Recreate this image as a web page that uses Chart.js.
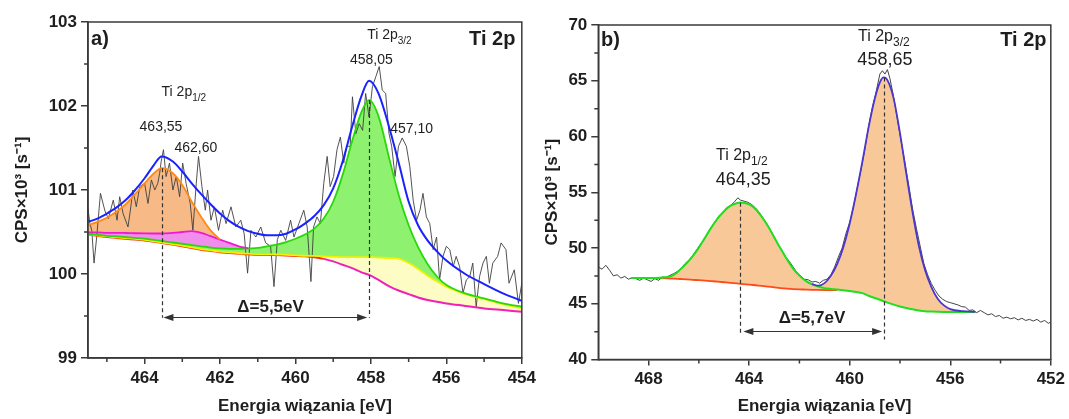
<!DOCTYPE html>
<html><head><meta charset="utf-8">
<script src="https://cdn.jsdelivr.net/npm/chart.js@4.4.1/dist/chart.umd.min.js"></script>
<style>
html,body{margin:0;padding:0;background:#fff;width:1069px;height:419px;overflow:hidden}
#wa{position:absolute;left:0;top:0;width:540px;height:419px}
#wb{position:absolute;left:534px;top:0;width:535px;height:419px}
</style></head><body>
<div id="wa"><canvas id="ca" width="540" height="419"></canvas></div>
<div id="wb"><canvas id="cb" width="535" height="419"></canvas></div>
<script>
// ---------- Panel a) data ----------
const aXTicks = [464, 462, 460, 458, 456, 454];
const aYTicks = [99, 100, 101, 102, 103];
const aXMinor = [465, 463, 461, 459, 457, 455];
const aYMinor = [99.5, 100.5, 101.5, 102.5];

const aRawX = [
 465.50, 465.45, 465.40, 465.34, 465.27, 465.17, 465.05, 464.96, 464.83, 464.73,
 464.66, 464.57, 464.44, 464.38, 464.31, 464.22, 464.13, 464.00, 463.91, 463.82,
 463.73, 463.65, 463.60, 463.56, 463.50, 463.43, 463.34, 463.25, 463.16, 463.07,
 462.99, 462.90, 462.79, 462.72, 462.63, 462.57, 462.48, 462.39, 462.33, 462.24,
 462.15, 462.04, 461.93, 461.84, 461.71, 461.58, 461.45, 461.36, 461.27, 461.18,
 461.05, 460.92, 460.79, 460.66, 460.57, 460.48, 460.39, 460.26, 460.13, 460.04,
 459.91, 459.78, 459.69, 459.59, 459.52, 459.43, 459.34, 459.25, 459.16, 459.08,
 458.99, 458.90, 458.81, 458.72, 458.64, 458.55, 458.49, 458.40, 458.31, 458.22,
 458.14, 458.05, 457.96, 457.87, 457.78, 457.70, 457.61, 457.52, 457.45, 457.36,
 457.27, 457.17, 457.06, 456.97, 456.88, 456.79, 456.70, 456.62, 456.53, 456.44,
 456.35, 456.26, 456.18, 456.09, 456.00, 455.91, 455.82, 455.74, 455.65, 455.56,
 455.47, 455.38, 455.30, 455.21, 455.12, 455.03, 454.94, 454.86, 454.77, 454.64,
 454.55, 454.42, 454.34, 454.20, 454.09, 454.00];
const aRawY = [
 100.78, 100.60, 100.52, 100.13, 100.44, 100.96, 100.75, 100.66, 100.88, 100.64,
 100.92, 100.72, 100.56, 100.75, 101.00, 100.80, 101.04, 101.08, 100.84, 101.12,
 101.00, 101.08, 101.20, 101.34, 101.48, 101.16, 101.32, 101.00, 101.16, 100.92,
 101.32, 101.08, 100.84, 100.52, 101.08, 101.40, 101.04, 100.76, 101.00, 100.64,
 100.80, 100.52, 100.76, 100.60, 100.80, 100.56, 100.64, 100.48, 100.01, 100.52,
 100.44, 100.56, 100.37, 100.33, 99.85, 100.41, 100.52, 100.40, 100.64, 100.44,
 100.60, 100.76, 100.56, 99.91, 100.56, 100.68, 100.60, 101.08, 101.40, 101.04,
 101.16, 101.48, 101.63, 101.32, 101.52, 101.52, 102.11, 101.67, 101.79, 101.71,
 102.15, 101.87, 102.23, 102.35, 102.47, 102.19, 102.15, 101.67, 101.52, 101.16,
 101.52, 101.62, 101.52, 101.28, 100.88, 100.64, 100.76, 100.96, 100.68, 100.60,
 100.29, 100.44, 99.93, 100.21, 100.33, 100.29, 100.09, 100.21, 100.09, 99.77,
 99.93, 99.97, 100.13, 99.61, 99.97, 100.13, 100.21, 99.89, 100.13, 100.21,
 100.37, 100.29, 99.89, 100.05, 99.65, 99.89];

const aFitX = [
 465.5, 465.25, 465.0, 464.75, 464.5, 464.25, 464.0, 463.75, 463.55, 463.25,
 463.0, 462.75, 462.5, 462.25, 462.0, 461.75, 461.5, 461.25, 461.0, 460.75,
 460.5, 460.25, 460.0, 459.75, 459.5, 459.25, 459.0, 458.75, 458.5, 458.25,
 458.05, 457.8, 457.5, 457.25, 457.0, 456.75, 456.5, 456.25, 456.0, 455.5,
 455.0, 454.5, 454.0];
const aBase = [
 100.47, 100.455, 100.44, 100.43, 100.42, 100.41, 100.40, 100.385, 100.37, 100.35,
 100.33, 100.31, 100.29, 100.275, 100.26, 100.25, 100.24, 100.235, 100.23, 100.23,
 100.225, 100.22, 100.215, 100.21, 100.20, 100.18, 100.15, 100.11, 100.07, 100.02,
 99.99, 99.93, 99.85, 99.80, 99.76, 99.72, 99.69, 99.67, 99.65, 99.62,
 99.59, 99.57, 99.55];
const aYellow = [
 100.472, 100.46, 100.447, 100.437, 100.427, 100.417, 100.405, 100.39, 100.375, 100.355,
 100.337, 100.317, 100.297, 100.282, 100.267, 100.257, 100.247, 100.242, 100.237, 100.237,
 100.232, 100.227, 100.222, 100.217, 100.215, 100.21, 100.205, 100.20, 100.20, 100.20,
 100.20, 100.195, 100.19, 100.18, 100.13, 100.06, 99.98, 99.91, 99.85, 99.76,
 99.70, 99.64, 99.59];
const aGreen = [
 100.475, 100.465, 100.455, 100.447, 100.44, 100.43, 100.42, 100.405, 100.395, 100.375,
 100.36, 100.345, 100.33, 100.315, 100.305, 100.30, 100.30, 100.305, 100.31, 100.33,
 100.35, 100.38, 100.42, 100.47, 100.54, 100.66, 100.86, 101.18, 101.58, 101.93,
 102.07, 101.88, 101.35, 100.92, 100.58, 100.32, 100.12, 99.97, 99.87, 99.77,
 99.71, 99.65, 99.61];
const aMagenta = [
 100.495, 100.495, 100.49, 100.49, 100.488, 100.485, 100.483, 100.482, 100.482, 100.49,
 100.50, 100.51, 100.49, 100.45, 100.41, 100.37, 100.33, 100.305, null, null,
 null, null, null, null, null, null, null, null, null, null,
 null, null, null, null, null, null, null, null, null, null,
 null, null, null];
const aOrange = [
 100.58, 100.62, 100.67, 100.74, 100.83, 100.95, 101.08, 101.20, 101.26, 101.20,
 101.06, 100.86, 100.68, 100.52, 100.41, null, null, null, null, null,
 null, null, null, null, null, null, null, null, null, null,
 null, null, null, null, null, null, null, null, null, null,
 null, null, null];
const aEnvelope = [
 100.62, 100.66, 100.72, 100.79, 100.88, 101.00, 101.14, 101.30, 101.40, 101.34,
 101.22, 101.08, 100.95, 100.83, 100.72, 100.63, 100.56, 100.51, 100.48, 100.46,
 100.46, 100.48, 100.53, 100.60, 100.69, 100.82, 101.02, 101.34, 101.75, 102.12,
 102.30, 102.15, 101.72, 101.30, 100.86, 100.58, 100.40, 100.27, 100.16, 100.00,
 99.88, 99.77, 99.68];

// ---------- Panel b) data ----------
const bXTicks = [468, 464, 460, 456, 452];
const bYTicks = [40, 45, 50, 55, 60, 65, 70];
const bXMinor = [466, 462, 458, 454];
const bYMinor = [42.5, 47.5, 52.5, 57.5, 62.5, 67.5];

const bRawX = [
 470.0, 469.85, 469.7, 469.55, 469.4, 469.25, 469.1, 468.95, 468.8, 468.65,
 468.5, 468.35, 468.2, 468.05, 467.9, 467.75, 467.6, 467.45, 467.3, 467.15,
 467.0, 466.85, 466.7, 466.55, 466.4, 466.25, 466.1, 465.95, 465.8, 465.65,
 465.5, 465.35, 465.2, 465.05, 464.9, 464.75, 464.6, 464.45, 464.35, 464.2,
 464.05, 463.9, 463.75, 463.6, 463.45, 463.3, 463.15, 463.0, 462.85, 462.7,
 462.55, 462.4, 462.25, 462.1, 461.95, 461.8, 461.65, 461.5, 461.35, 461.2,
 461.05, 460.9, 460.75, 460.6, 460.45, 460.3, 460.15, 460.0, 459.85, 459.7,
 459.55, 459.4, 459.25, 459.1, 458.95, 458.8, 458.7, 458.6, 458.5, 458.4,
 458.25, 458.1, 457.95, 457.8, 457.65, 457.5, 457.35, 457.2, 457.05, 456.9,
 456.75, 456.6, 456.45, 456.3, 456.15, 456.0, 455.85, 455.7, 455.55, 455.4,
 455.25, 455.1, 454.95, 454.8, 454.65, 454.5, 454.35, 454.2, 454.05, 453.9,
 453.75, 453.6, 453.45, 453.3, 453.15, 453.0, 452.85, 452.7, 452.55, 452.4,
 452.25, 452.1, 452.0];
const bRawY = [
 48.3, 48.1, 48.45, 48.0, 47.5, 47.6, 47.3, 47.45, 47.2, 47.35,
 47.25, 47.1, 47.3, 47.15, 47.0, 47.25, 47.1, 47.4, 47.35, 47.55,
 47.7, 47.9, 48.2, 48.6, 48.9, 49.3, 49.8, 50.3, 50.7, 51.3,
 51.9, 52.3, 52.9, 53.1, 53.6, 53.8, 54.1, 54.5, 54.3, 54.2,
 54.1, 53.9, 53.6, 53.2, 52.7, 52.2, 51.6, 51.0, 50.3, 49.8,
 49.2, 48.8, 48.3, 47.8, 47.5, 47.2, 47.15, 46.95, 47.0, 46.85,
 47.1, 47.2, 47.6, 48.3, 49.2, 50.0, 51.3, 52.3, 53.7, 55.4,
 57.0, 58.8, 60.9, 62.6, 64.0, 65.6, 65.9, 65.6, 66.0, 65.2,
 63.5, 61.5, 59.5, 57.6, 55.6, 53.5, 51.8, 50.2, 48.6, 47.6,
 46.8, 46.2, 45.7, 45.4, 45.2, 45.1, 45.0, 44.9, 44.75, 44.7,
 44.4, 44.45, 44.2, 44.4, 44.2, 44.0, 44.1, 43.85, 43.95, 43.7,
 43.8, 43.65, 43.75, 43.55, 43.7, 43.5, 43.6, 43.45, 43.6, 43.35,
 43.5, 43.25, 43.35];

const bFitX = [
 468.7, 468.25, 467.75, 467.25, 467.0, 466.75, 466.5, 466.25, 466.0, 465.75,
 465.5, 465.25, 465.0, 464.75, 464.5, 464.35, 464.0, 463.75, 463.5, 463.25,
 463.0, 462.75, 462.5, 462.25, 462.0, 461.75, 461.5, 461.25, 461.0, 460.75,
 460.5, 460.25, 460.0, 459.75, 459.5, 459.25, 459.0, 458.8, 458.65, 458.5,
 458.25, 458.0, 457.75, 457.5, 457.25, 457.0, 456.75, 456.5, 456.25, 456.0,
 455.5, 455.0];
const bRedBase = [
 47.30, 47.30, 47.29, 47.27, 47.25, 47.22, 47.19, 47.15, 47.11, 47.07,
 47.03, 46.98, 46.93, 46.88, 46.82, 46.79, 46.72, 46.66, 46.60, 46.54,
 46.47, 46.41, 46.36, 46.32, 46.29, 46.27, 46.25, 46.24, 46.23, 46.22,
 46.22, null, null, null, null, null, null, null, null, null,
 null, null, null, null, null, null, null, null, null, null,
 null, null];
const bGreen = [
 47.30, 47.30, 47.31, 47.40, 47.58, 48.05, 48.60, 49.25, 50.03, 50.95,
 51.85, 52.65, 53.30, 53.78, 54.02, 54.08, 53.92, 53.50, 52.80, 51.95,
 50.95, 49.95, 49.00, 48.15, 47.52, 47.05, 46.75, 46.55, 46.40, 46.33,
 46.28, 46.22, 46.15, 46.06, 45.95, 45.72, 45.52, 45.36, 45.22, 45.10,
 44.92, 44.76, 44.62, 44.50, 44.40, 44.33, 44.30, 44.28, 44.27, 44.27,
 44.26, 44.26];
const bBlue = [
 null, null, null, null, null, null, null, null, null, null,
 null, null, null, null, null, null, null, null, null, null,
 null, null, null, null, null, null, 46.76, 46.62, 46.85, 47.50,
 48.55, 50.10, 52.20, 54.80, 57.70, 60.80, 63.40, 64.85, 65.30, 65.05,
 63.40, 60.30, 56.70, 53.20, 50.20, 48.00, 46.50, 45.45, 44.85, 44.52,
 44.33, 44.28];

// ---------- styling / helpers ----------
const FONT = '"Liberation Sans", Arial, Helvetica, sans-serif';
const AXIS = '#3a3a3a';
const TXT = '#1e1e1e';
Chart.defaults.font.family = FONT;

const pts = (xs, ys) => xs.map((x, i) => ({x: x, y: ys[i]}));

function xAxis(min, max, ticks, height) {
  return {
    type: 'linear', min: min, max: max, reverse: true,
    afterBuildTicks: s => { s.ticks = ticks.map(v => ({value: v})); },
    afterFit: s => { s.height = height; },
    grid: {drawOnChartArea: false, drawTicks: true, tickLength: 6, color: AXIS, lineWidth: 1.5},
    border: {display: true, color: AXIS, width: 1.5},
    ticks: {font: {family: FONT, size: 17, weight: 'bold'}, color: TXT, padding: 4,
            maxRotation: 0, autoSkip: false, callback: v => String(v)},
    title: {display: true, text: 'Energia wiązania [eV]', color: TXT,
            font: {family: FONT, size: 17, weight: 'bold'}, padding: {top: 0, bottom: 2}}
  };
}
function yAxis(min, max, ticks, width, titleTop) {
  return {
    type: 'linear', min: min, max: max,
    afterBuildTicks: s => { s.ticks = ticks.map(v => ({value: v})); },
    afterFit: s => { s.width = width; },
    grid: {drawOnChartArea: false, drawTicks: true, tickLength: 7, color: AXIS, lineWidth: 1.5},
    border: {display: true, color: AXIS, width: 1.5},
    ticks: {font: {family: FONT, size: 17, weight: 'bold'}, color: TXT, padding: 4,
            autoSkip: false, callback: v => String(v)},
    title: {display: true, text: 'CPS×10³ [s⁻¹]', color: TXT,
            font: {family: FONT, size: 17, weight: 'bold'}, padding: {top: titleTop, bottom: 0}}
  };
}
function line(label, xs, ys, color, width, extra) {
  return Object.assign({label: label, data: pts(xs, ys), borderColor: color, borderWidth: width,
    pointRadius: 0, fill: false, cubicInterpolationMode: 'monotone', spanGaps: false}, extra || {});
}

const frameMinor = {
  id: 'frameMinor',
  afterDraw(chart, args, o) {
    const {ctx, chartArea: a, scales: {x, y}} = chart;
    ctx.save();
    ctx.strokeStyle = AXIS; ctx.lineWidth = 1.5;
    ctx.strokeRect(a.left, a.top, a.right - a.left, a.bottom - a.top);
    ctx.beginPath();
    (o.minorX || []).forEach(v => { const p = x.getPixelForValue(v); ctx.moveTo(p, a.bottom); ctx.lineTo(p, a.bottom + 4); });
    (o.minorY || []).forEach(v => { const p = y.getPixelForValue(v); ctx.moveTo(a.left, p); ctx.lineTo(a.left - 4, p); });
    ctx.stroke();
    ctx.restore();
  }
};

const notes = {
  id: 'xpsNotes',
  afterDatasetsDraw(chart, args, o) {
    const {ctx, scales: {x, y}} = chart;
    ctx.save();
    ctx.strokeStyle = '#333'; ctx.fillStyle = '#333'; ctx.lineWidth = 1.2;
    ctx.setLineDash([4, 3]);
    (o.dashes || []).forEach(d => {
      const px = Math.round(x.getPixelForValue(d.x)) + 0.5;
      ctx.beginPath(); ctx.moveTo(px, y.getPixelForValue(d.y1)); ctx.lineTo(px, y.getPixelForValue(d.y2)); ctx.stroke();
    });
    ctx.setLineDash([]);
    (o.arrows || []).forEach(a => {
      const x1 = x.getPixelForValue(a.x1), x2 = x.getPixelForValue(a.x2), py = Math.round(y.getPixelForValue(a.y)) + 0.5;
      ctx.beginPath(); ctx.moveTo(x1 + 6, py); ctx.lineTo(x2 - 6, py); ctx.stroke();
      ctx.beginPath(); ctx.moveTo(x1, py); ctx.lineTo(x1 + 10, py - 3.5); ctx.lineTo(x1 + 10, py + 3.5); ctx.closePath(); ctx.fill();
      ctx.beginPath(); ctx.moveTo(x2, py); ctx.lineTo(x2 - 10, py - 3.5); ctx.lineTo(x2 - 10, py + 3.5); ctx.closePath(); ctx.fill();
    });
    ctx.fillStyle = TXT;
    (o.labels || []).forEach(L => {
      const px = x.getPixelForValue(L.x), py = y.getPixelForValue(L.y);
      const f = (L.bold ? 'bold ' : '') + L.size + 'px ' + FONT;
      ctx.font = f;
      const w = ctx.measureText(L.text).width;
      let sw = 0;
      if (L.sub) { ctx.font = L.subSize + 'px ' + FONT; sw = ctx.measureText(L.sub).width; }
      const total = w + sw;
      const x0 = L.align === 'center' ? px - total / 2 : (L.align === 'right' ? px - total : px);
      ctx.textAlign = 'left';
      ctx.textBaseline = L.baseline || 'middle';
      ctx.font = f;
      ctx.fillText(L.text, x0, py);
      if (L.sub) { ctx.font = L.subSize + 'px ' + FONT; ctx.fillText(L.sub, x0 + w, py + L.subDy); }
    });
    ctx.restore();
  }
};

// ---------- Chart a ----------
new Chart(document.getElementById('ca'), {
  type: 'line',
  data: {datasets: [
    line('Pomiar', aRawX, aRawY, '#404040', 0.9, {cubicInterpolationMode: 'default', tension: 0, order: 9}),
    line('Tło', aFitX, aBase, '#ff2a10', 2, {order: 6,
      segment: {borderColor: c => (c.p0.parsed.x <= 459.4 ? '#f020b8' : '#ff2a10')}}),
    line('457,10', aFitX, aYellow, '#f2f200', 1.8, {fill: 1, backgroundColor: 'rgba(252,252,190,0.9)', order: 5}),
    line('458,05', aFitX, aGreen, '#28d80a', 1.8, {fill: 2, backgroundColor: 'rgba(130,240,95,0.9)', order: 4}),
    line('462,60', aFitX, aMagenta, '#ee1ad0', 1.8, {fill: 3, backgroundColor: 'rgba(240,135,235,0.95)', order: 3}),
    line('463,55', aFitX, aOrange, '#ff8a14', 1.8, {fill: 4, backgroundColor: 'rgba(246,180,125,0.92)', order: 2}),
    line('Suma', aFitX, aEnvelope, '#1a22ff', 2, {order: 1})
  ]},
  options: {
    responsive: false, devicePixelRatio: 1, animation: false,
    layout: {padding: {left: 0, right: 15.7, top: 22, bottom: 0}},
    scales: {x: xAxis(454, 465.5, aXTicks, 61), y: yAxis(99, 103, aYTicks, 88, 12)},
    plugins: {
      legend: {display: false}, tooltip: {enabled: false},
      filler: {drawTime: 'beforeDatasetsDraw'},
      frameMinor: {minorX: aXMinor, minorY: aYMinor},
      xpsNotes: {
        dashes: [{x: 463.55, y1: 101.26, y2: 99.48}, {x: 458.05, y1: 102.07, y2: 99.48}],
        arrows: [{x1: 463.5, x2: 458.1, y: 99.49}],
        labels: [
          {text: 'a)', x: 465.42, y: 102.79, size: 20, bold: true, align: 'left'},
          {text: 'Ti 2p', x: 454.17, y: 102.79, size: 20, bold: true, align: 'right'},
          {text: 'Ti 2p', sub: '3/2', x: 458.10, y: 102.80, size: 14, subSize: 10, subDy: 5, align: 'left', baseline: 'alphabetic'},
          {text: '458,05', x: 457.99, y: 102.54, size: 14, align: 'center'},
          {text: 'Ti 2p', sub: '1/2', x: 463.55, y: 102.12, size: 14, subSize: 10, subDy: 5, align: 'left', baseline: 'alphabetic'},
          {text: '463,55', x: 463.565, y: 101.75, size: 14, align: 'center'},
          {text: '462,60', x: 462.64, y: 101.50, size: 14, align: 'center'},
          {text: '457,10', x: 456.92, y: 101.73, size: 14, align: 'center'},
          {text: 'Δ=5,5eV', x: 460.66, y: 99.60, size: 17, bold: true, align: 'center'}
        ]
      }
    }
  },
  plugins: [frameMinor, notes]
});

// ---------- Chart b ----------
new Chart(document.getElementById('cb'), {
  type: 'line',
  data: {datasets: [
    line('Pomiar', bRawX, bRawY, '#303030', 0.9, {cubicInterpolationMode: 'default', tension: 0, order: 9}),
    line('Tło', bFitX, bRedBase, '#ff4a1a', 1.8, {order: 3}),
    line('464,35', bFitX, bGreen, '#1ee01e', 2, {fill: 1, backgroundColor: 'rgba(248,190,135,0.85)', order: 2}),
    line('458,65', bFitX, bBlue, '#4a36d0', 1.8, {fill: 2, backgroundColor: 'rgba(248,190,135,0.85)', order: 1})
  ]},
  options: {
    responsive: false, devicePixelRatio: 1, animation: false,
    layout: {padding: {left: 0, right: 16.7, top: 25, bottom: 0}},
    scales: {x: xAxis(452, 470, bXTicks, 59.5), y: yAxis(40, 70, bYTicks, 64.3, 8)},
    plugins: {
      legend: {display: false}, tooltip: {enabled: false},
      filler: {drawTime: 'beforeDatasetsDraw'},
      frameMinor: {minorX: bXMinor, minorY: bYMinor},
      xpsNotes: {
        dashes: [{x: 464.35, y1: 54.05, y2: 42.2}, {x: 458.65, y1: 65.3, y2: 41.8}],
        arrows: [{x1: 464.23, x2: 458.71, y: 42.59}],
        labels: [
          {text: 'b)', x: 469.89, y: 68.62, size: 20, bold: true, align: 'left'},
          {text: 'Ti 2p', x: 452.17, y: 68.62, size: 20, bold: true, align: 'right'},
          {text: 'Ti 2p', sub: '3/2', x: 459.67, y: 68.57, size: 16, subSize: 12, subDy: 5, align: 'left', baseline: 'alphabetic'},
          {text: '458,65', x: 458.60, y: 66.9, size: 18, align: 'center'},
          {text: 'Ti 2p', sub: '1/2', x: 465.32, y: 57.86, size: 16, subSize: 12, subDy: 5, align: 'left', baseline: 'alphabetic'},
          {text: '464,35', x: 464.23, y: 56.13, size: 18, align: 'center'},
          {text: 'Δ=5,7eV', x: 461.5, y: 43.70, size: 17, bold: true, align: 'center'}
        ]
      }
    }
  },
  plugins: [frameMinor, notes]
});
</script>
</body></html>
